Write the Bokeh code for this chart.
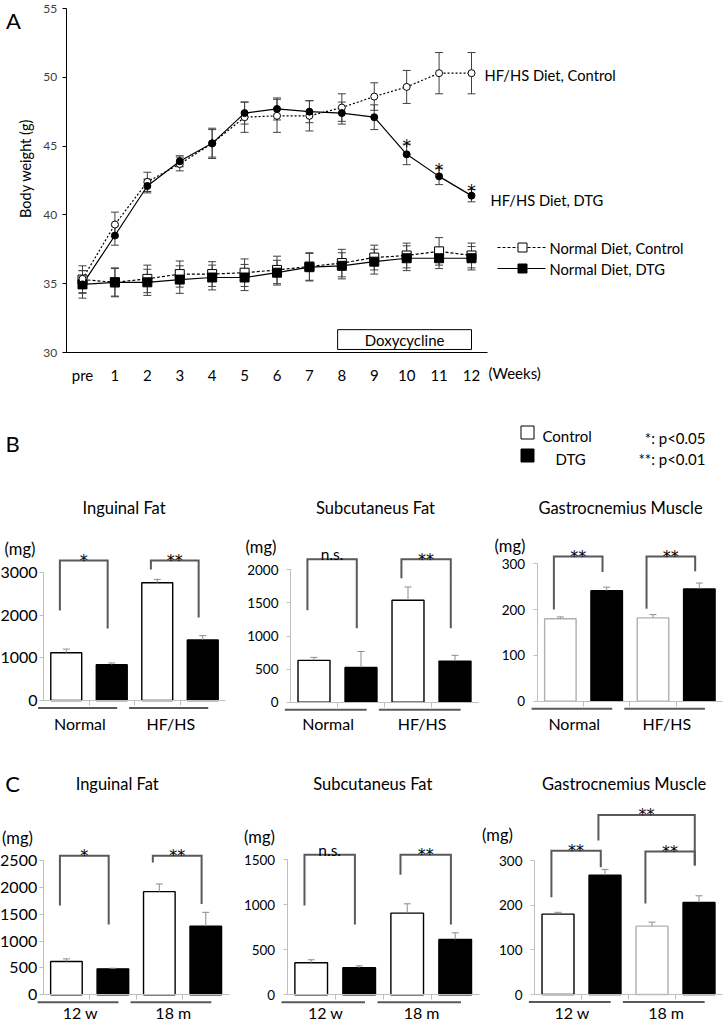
import math
from bokeh.plotting import figure
from bokeh.models import ColumnDataSource, Whisker, TeeHead, FixedTicker
from bokeh.layouts import column, row
from bokeh.embed import file_html
from bokeh.resources import INLINE
from bokeh.core.properties import value

FONT = "Lato"
STAR_FONT = "DejaVu Sans"

# ---------------- Panel A data ----------------
weeks = ["pre", "1", "2", "3", "4", "5", "6", "7", "8", "9", "10", "11", "12"]
week_pos = list(range(len(weeks)))
hf_ctrl = [35.35, 39.3, 42.4, 43.7, 45.2, 47.1, 47.2, 47.2, 47.8, 48.6, 49.3, 50.3, 50.3]
hf_ctrl_err = [0.6, 0.9, 0.7, 0.5, 1.1, 1.1, 1.2, 1.1, 1.0, 1.0, 1.2, 1.5, 1.5]
hf_dtg = [34.95, 38.5, 42.1, 43.9, 45.2, 47.4, 47.7, 47.5, 47.4, 47.1, 44.4, 42.8, 41.4]
hf_dtg_err = [0.6, 0.7, 0.5, 0.4, 1.0, 0.8, 0.8, 0.8, 0.8, 0.9, 0.75, 0.6, 0.45]
hf_dtg_sig = ["", "", "", "", "", "", "", "", "", "", "*", "*", "*"]
nd_ctrl = [35.3, 35.1, 35.35, 35.7, 35.7, 35.8, 36.0, 36.25, 36.5, 36.9, 37.05, 37.35, 37.05]
nd_ctrl_err = [1.0, 1.05, 1.0, 0.95, 0.9, 1.0, 1.0, 1.0, 1.0, 0.9, 0.9, 1.0, 0.9]
nd_dtg = [34.95, 35.1, 35.1, 35.3, 35.45, 35.45, 35.8, 36.2, 36.3, 36.6, 36.85, 36.85, 36.85]
nd_dtg_err = [1.0, 1.0, 0.95, 1.0, 0.9, 0.95, 0.9, 1.0, 0.95, 0.9, 0.9, 0.75, 0.85]
dox_weeks = [8, 12]

# ---------------- Panel B / C data ----------------
groups_B = ["Normal", "HF/HS"]
groups_C = ["12 w", "18 m"]
b_ing_ctrl, b_ing_ctrl_err = [1120, 2760], [85, 80]
b_ing_dtg, b_ing_dtg_err = [840, 1420], [40, 100]
b_sub_ctrl, b_sub_ctrl_err = [632, 1540], [45, 200]
b_sub_dtg, b_sub_dtg_err = [526, 621], [240, 87]
b_gas_ctrl, b_gas_ctrl_err = [180, 182], [4, 7]
b_gas_dtg, b_gas_dtg_err = [241, 245], [8, 13]
c_ing_ctrl, c_ing_ctrl_err = [619, 1920], [50, 143]
c_ing_dtg, c_ing_dtg_err = [483, 1275], [12, 260]
c_sub_ctrl, c_sub_ctrl_err = [356, 907], [33, 104]
c_sub_dtg, c_sub_dtg_err = [300, 614], [22, 75]
c_gas_ctrl, c_gas_ctrl_err = [180, 153], [4, 9]
c_gas_dtg, c_gas_dtg_err = [267, 206], [13, 15]


# ---------------- layout helpers ----------------
def make_fig(rect, xa, ya):
    left, top, right, bottom = rect
    W, H = right - left, bottom - top
    (da, pa), (db, pb) = xa
    la, lb = pa - left, pb - left
    kx = (lb - la) / (db - da)
    x0 = da - la / kx
    (ea, qa), (eb, qb) = ya
    ma, mb = qa - top, qb - top
    ky = (ma - mb) / (eb - ea)
    y1 = ea + ma / ky
    p = figure(width=W, height=H, x_range=(x0, x0 + W / kx), y_range=(y1 - H / ky, y1),
               output_backend="svg", toolbar_location=None, tools="", min_border=0)
    p.outline_line_color = None
    p.xgrid.visible = False
    p.ygrid.visible = False
    p.background_fill_color = "white"
    p.border_fill_color = "white"

    def fx(r):
        return x0 + (r - left) / kx

    def fy(r):
        return y1 - (r - top) / ky

    return p, fx, fy, kx, ky


def txt(p, x, y, s, size, align="center", baseline="middle", color="black", angle=0.0, xo=0, yo=0, font=FONT):
    p.text(x=[x], y=[y], text=[s], text_font=value(font), text_font_size=size,
           text_align=align, text_baseline=baseline, text_color=color, angle=angle,
           x_offset=xo, y_offset=yo)


def add_whisker(p, x, lo, hi, color, size, lower=True, width=1.0, level="annotation"):
    src = ColumnDataSource(dict(x=x, lo=lo, hi=hi))
    w = Whisker(source=src, base="x", lower="lo", upper="hi", line_color=color, line_width=width,
                upper_head=TeeHead(size=size, line_color=color, line_width=width),
                lower_head=TeeHead(size=size, line_color=color, line_width=width) if lower else None,
                level=level)
    p.add_layout(w)


# ---------------- Panel A ----------------
pA, fx, fy, kx, ky = make_fig((0, 0, 723, 400), ((0, 82), (12, 471)), ((30, 352), (55, 8)))

xa = pA.xaxis[0]
xa.fixed_location = 30
xa.bounds = (-0.5, 12.5)
xa.ticker = FixedTicker(ticks=week_pos)
xa.major_label_overrides = {i: w for i, w in enumerate(weeks)}
xa.major_tick_line_color = None
xa.major_tick_out = 0
xa.minor_tick_line_color = None
xa.axis_line_color = "black"
xa.major_label_standoff = 13
xa.major_label_text_font = FONT
xa.major_label_text_font_size = "15px"
xa.major_label_text_color = "black"

ya = pA.yaxis[0]
ya.fixed_location = -0.5
ya.bounds = (30, 55)
ya.ticker = FixedTicker(ticks=[30, 35, 40, 45, 50, 55])
ya.major_tick_out = 4
ya.major_tick_in = 0
ya.minor_tick_line_color = None
ya.axis_line_color = "black"
ya.major_tick_line_color = "black"
ya.major_label_standoff = 5
ya.major_label_text_font = FONT
ya.major_label_text_font_size = "12px"
ya.major_label_text_color = "#404040"

ecol = "#404040"
for vals, errs in ((nd_ctrl, nd_ctrl_err), (nd_dtg, nd_dtg_err), (hf_ctrl, hf_ctrl_err), (hf_dtg, hf_dtg_err)):
    add_whisker(pA, week_pos, [v - e for v, e in zip(vals, errs)], [v + e for v, e in zip(vals, errs)],
                ecol, 8, level="underlay")

pA.line(week_pos, nd_ctrl, line_color="black", line_width=1.2, line_dash="3 2")
pA.line(week_pos, nd_dtg, line_color="black", line_width=1.2)
pA.line(week_pos, hf_ctrl, line_color="black", line_width=1.2, line_dash="2 2")
pA.line(week_pos, hf_dtg, line_color="black", line_width=1.2)
pA.scatter(week_pos, nd_ctrl, marker="square", size=9, fill_color="white", line_color="black", line_width=1)
pA.scatter(week_pos, nd_dtg, marker="square", size=9, fill_color="black", line_color="black")
pA.scatter(week_pos, hf_ctrl, marker="circle", size=7, fill_color="white", line_color="black", line_width=1)
pA.scatter(week_pos, hf_dtg, marker="circle", size=7, fill_color="black", line_color="black")

# significance stars on HF/HS DTG
star_x = [x for x, s in zip(week_pos, hf_dtg_sig) if s]
star_y = [v + e for v, e, s in zip(hf_dtg, hf_dtg_err, hf_dtg_sig) if s]
star_t = [s for s in hf_dtg_sig if s]
pA.text(x=star_x, y=star_y, text=star_t, text_font=value(STAR_FONT), text_font_size="17px",
        text_align="center", text_baseline="alphabetic", y_offset=2, text_color="black")

# Doxycycline box
pA.quad(left=[dox_weeks[0] - 0.13], right=[dox_weeks[1]], bottom=[30.22], top=[31.66],
        fill_color="white", line_color="black", line_width=1)
txt(pA, (dox_weeks[0] - 0.13 + dox_weeks[1]) / 2, 30.94, "Doxycycline", "15px")

# end-of-line labels
txt(pA, week_pos[-1], hf_ctrl[-1], "HF/HS Diet, Control", "14.7px", align="left", xo=13, yo=2)
txt(pA, week_pos[-1], hf_dtg[-1], "HF/HS Diet, DTG", "14.7px", align="left", xo=19, yo=4)

# Normal-diet legend
for yy, dash, fill, lab in ((247, "3 2", "white", "Normal Diet, Control"), (268, "solid", "black", "Normal Diet, DTG")):
    pA.line([fx(497), fx(545)], [fy(yy), fy(yy)], line_color="black", line_width=1.2, line_dash=dash)
    pA.scatter([fx(522)], [fy(yy)], marker="square", size=9, fill_color=fill, line_color="black")
    txt(pA, fx(549), fy(yy), lab, "14.7px", align="left")

txt(pA, fx(488), fy(372), "(Weeks)", "15px", align="left")
txt(pA, fx(25), fy(168), "Body weight (g)", "14.5px", angle=math.pi / 2)
txt(pA, fx(13), fy(20), "A", "22px")


# ---------------- bar panels ----------------
def bar_panel(cfg):
    p, fx, fy, kx, ky = make_fig(cfg["rect"], cfg["xa"], cfg["ya"])
    ctrl, cerr, dtg, derr = cfg["data"]
    xs = [0, 1, 2, 3]
    tops = [ctrl[0], dtg[0], ctrl[1], dtg[1]]
    errs = [cerr[0], derr[0], cerr[1], derr[1]]
    fills = ["white", "black", "white", "black"]
    lines = [cfg["outline"][0], "black", cfg["outline"][1], "black"]
    src = ColumnDataSource(dict(x=xs, top=tops, fill=fills, line=lines))
    p.vbar(x="x", top="top", bottom=0, width=0.68, fill_color="fill", line_color="line",
           line_width=1.4, source=src)
    add_whisker(p, xs, tops, [t + e for t, e in zip(tops, errs)], "#8c8c8c", 7, lower=False)

    yticks = cfg["yticks"]
    xa = p.xaxis[0]
    xa.fixed_location = 0
    xa.bounds = (-0.5, 3.5)
    xa.ticker = FixedTicker(ticks=[], minor_ticks=[0.5, 1.5, 2.5])
    xa.major_tick_line_color = None
    xa.minor_tick_out = 5
    xa.minor_tick_in = 0
    xa.minor_tick_line_color = "#bfbfbf"
    xa.axis_line_color = "#bfbfbf"

    ya = p.yaxis[0]
    ya.fixed_location = -0.5
    ya.bounds = (0, yticks[-1])
    ya.ticker = FixedTicker(ticks=yticks)
    ya.major_tick_out = 4
    ya.major_tick_in = 0
    ya.minor_tick_line_color = None
    ya.axis_line_color = "#bfbfbf"
    ya.major_tick_line_color = "#bfbfbf"
    ya.major_label_standoff = cfg["standoff"]
    ya.major_label_text_font = FONT
    ya.major_label_text_font_size = cfg["tick_size"]
    ya.major_label_text_color = "black"

    # group underlines and labels
    for g, name in enumerate(cfg["groups"]):
        c = 2 * g + 0.5
        p.segment(x0=[c - 1.12], x1=[c + 0.62], y0=[-7.5 / ky], y1=[-7.5 / ky],
                  line_color="#595959", line_width=2)
        txt(p, c - 0.2, fy(cfg["glab_y"]), name, "16px")

    # significance brackets
    for i, j, yl, yt, yr, lab in cfg["brackets"]:
        xl, xr = i - 0.14, j - 0.09
        p.line([xl, xl, xr, xr], [yl, yt, yt, yr], line_color="#595959", line_width=2,
               line_join="miter")
        if "*" in lab:
            txt(p, (xl + xr) / 2, yt, lab, "16px", baseline="alphabetic", yo=0, font=STAR_FONT)
        else:
            txt(p, (xl + xr) / 2, yt, lab, "15.5px", baseline="alphabetic", yo=-5)

    txt(p, fx(cfg["title"][0]), fy(cfg["title"][1]), cfg["title"][2], "16.5px")
    txt(p, fx(cfg["mg"][0]), fy(cfg["mg"][1]), "(mg)", "16.5px")
    return p, fx, fy


cfgs = [
    dict(rect=(0, 400, 236, 738), xa=((-0.5, 43), (3.5, 225)), ya=((0, 700), (3000, 572)),
         yticks=[0, 1000, 2000, 3000], data=(b_ing_ctrl, b_ing_ctrl_err, b_ing_dtg, b_ing_dtg_err),
         outline=["black", "black"], groups=groups_B, glab_y=723, standoff=2, tick_size="16px",
         brackets=[(0, 1, 2110, 3280, 1690, "*"), (2, 3, 3070, 3280, 1945, "**")],
         title=(123.5, 507, "Inguinal Fat"), mg=(19.5, 548)),
    dict(rect=(236, 400, 480, 738), xa=((-0.5, 290), (3.5, 478)), ya=((0, 701.7), (2000, 569.3)),
         yticks=[0, 500, 1000, 1500, 2000], data=(b_sub_ctrl, b_sub_ctrl_err, b_sub_dtg, b_sub_dtg_err),
         outline=["black", "black"], groups=groups_B, glab_y=723, standoff=8, tick_size="13.5px",
         brackets=[(0, 1, 1390, 2160, 1117, "n.s."), (2, 3, 1874, 2160, 1117, "**")],
         title=(375, 507, "Subcutaneus Fat"), mg=(260.5, 546)),
    dict(rect=(480, 400, 723, 738), xa=((-0.5, 536.7), (3.5, 722)), ya=((0, 700.7), (300, 563.3)),
         yticks=[0, 100, 200, 300], data=(b_gas_ctrl, b_gas_ctrl_err, b_gas_dtg, b_gas_dtg_err),
         outline=["#b0b0b0", "#b0b0b0"], groups=groups_B, glab_y=723, standoff=8, tick_size="13.5px",
         brackets=[(0, 1, 200, 316, 282, "**"), (2, 3, 202, 316, 284, "**")],
         title=(620, 507, "Gastrocnemius Muscle"), mg=(509.5, 545)),
    dict(rect=(0, 738, 236, 1024), xa=((-0.5, 42.7), (3.5, 228.5)), ya=((0, 994.3), (2500, 860)),
         yticks=[0, 500, 1000, 1500, 2000, 2500], data=(c_ing_ctrl, c_ing_ctrl_err, c_ing_dtg, c_ing_dtg_err),
         outline=["black", "black"], groups=groups_C, glab_y=1012, standoff=2, tick_size="16px",
         brackets=[(0, 1, 1660, 2590, 1307, "*"), (2, 3, 2465, 2590, 1691, "**")],
         title=(116.7, 783, "Inguinal Fat"), mg=(17, 837)),
    dict(rect=(236, 738, 480, 1024), xa=((-0.5, 286.7), (3.5, 478.7)), ya=((0, 994.3), (1500, 859.3)),
         yticks=[0, 500, 1000, 1500], data=(c_sub_ctrl, c_sub_ctrl_err, c_sub_dtg, c_sub_dtg_err),
         outline=["black", "black"], groups=groups_C, glab_y=1012, standoff=8, tick_size="13.5px",
         brackets=[(0, 1, 992, 1556, 782, "n.s."), (2, 3, 1333, 1556, 782, "**")],
         title=(372.3, 783, "Subcutaneus Fat"), mg=(259, 836)),
    dict(rect=(480, 738, 723, 1024), xa=((-0.5, 534), (3.5, 722)), ya=((0, 994), (300, 860)),
         yticks=[0, 100, 200, 300], data=(c_gas_ctrl, c_gas_ctrl_err, c_gas_dtg, c_gas_dtg_err),
         outline=["black", "#b0b0b0"], groups=groups_C, glab_y=1012, standoff=8, tick_size="13.5px",
         brackets=[(0, 1, 218, 322, 285, "**"), (2, 3, 204, 320, 289, "**"), (1, 3, 345, 402, 289, "**")],
         title=(623.7, 783, "Gastrocnemius Muscle"), mg=(497, 834)),
]

panels = [bar_panel(c) for c in cfgs]

# panel letters
pB1, fxb, fyb = panels[0]
txt(pB1, fxb(12), fyb(443), "B", "22px")
pC1, fxc, fyc = panels[3]
txt(pC1, fxc(12), fyc(783), "C", "22px")

# legend for B/C in the B3 panel
pB3, fx3, fy3 = panels[2]
pB3.scatter([fx3(527)], [fy3(432)], marker="square", size=13, fill_color="white", line_color="black", line_width=1)
pB3.scatter([fx3(527)], [fy3(455)], marker="square", size=13, fill_color="black", line_color="black")
txt(pB3, fx3(542), fy3(435), "Control", "15px", align="left")
txt(pB3, fx3(555), fy3(458), "DTG", "15px", align="left")
txt(pB3, fx3(705), fy3(437), "*: p<0.05", "15px", align="right")
txt(pB3, fx3(705), fy3(458), "**: p<0.01", "15px", align="right")

layout = column(pA, row(*[q[0] for q in panels[:3]]), row(*[q[0] for q in panels[3:]]))

with open("out.html", "w") as f:
    f.write(file_html(layout, INLINE))
